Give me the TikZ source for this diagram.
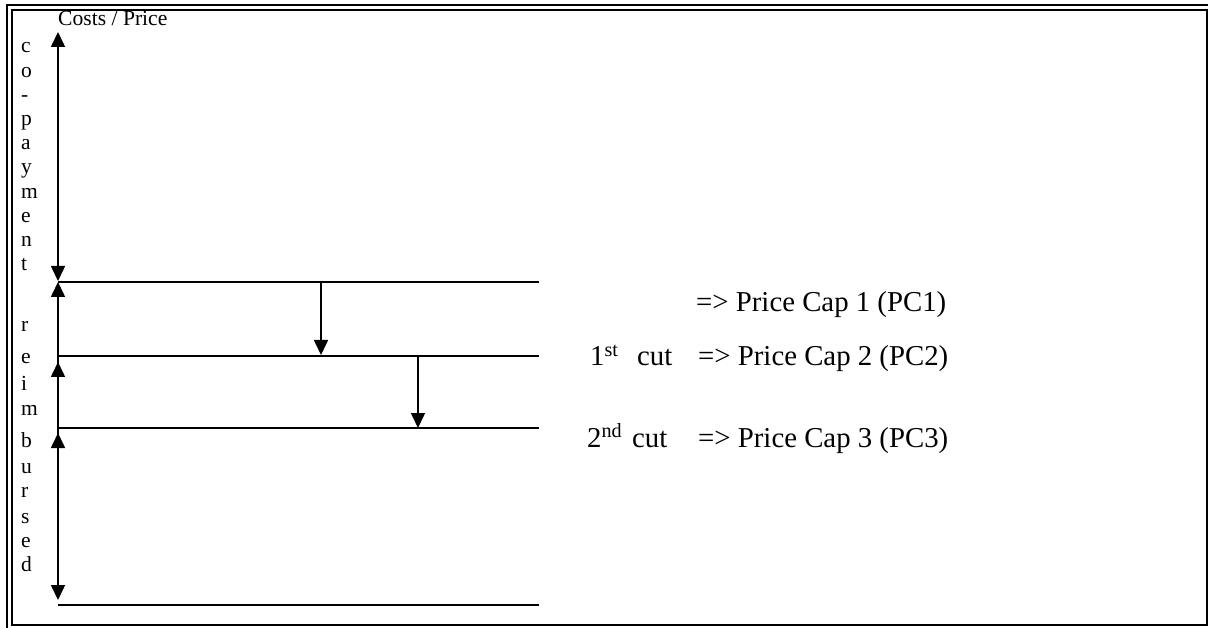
\documentclass[tikz,border=0pt]{standalone}
\usepackage{fontspec}
\setmainfont{Liberation Serif}
\usetikzlibrary{arrows.meta}
\tikzset{
  px/.style={x=1pt,y=-1pt},
  rule/.style={line width=1.6pt},
  tri/.style={-{Triangle[width=14pt,length=15pt]}},
  bitri/.style={{Triangle[width=14pt,length=15pt]}-{Triangle[width=14pt,length=15pt]}},
  arr/.style={line width=1.6pt},
  big/.style={inner sep=0pt,font=\fontsize{28.8}{33}\selectfont},
  vlet/.style={inner sep=0pt,anchor=base west,font=\fontsize{21.5}{25}\selectfont},
  small/.style={inner sep=0pt,font=\fontsize{21.6}{25}\selectfont},
}
\begin{document}
\begin{tikzpicture}[px]
\useasboundingbox (0,0) rectangle (1208,628);
% frame
\draw[line width=1.5pt] (12,10) rectangle (1207,625);
\draw[line width=2.2pt] (7,628) -- (7,5) -- (1208,5);
% coordinates of the levels
\coordinate (a0) at (58,32);
\coordinate (a1) at (58,281);
\coordinate (b1) at (58,282);
\coordinate (b4) at (58,600);
\coordinate (L1s) at (58,282);  \coordinate (L1e) at (539,282);
\coordinate (L2s) at (58,356);  \coordinate (L2e) at (539,356);
\coordinate (L3s) at (58,428);  \coordinate (L3e) at (539,428);
\coordinate (L4s) at (58,605);  \coordinate (L4e) at (539,605);
\coordinate (c2) at (58,362); \coordinate (c2b) at (58,385);
\coordinate (c3) at (58,433); \coordinate (c3b) at (58,455);
\coordinate (d1s) at (321,282); \coordinate (d1e) at (321,355);
\coordinate (d2s) at (418,356); \coordinate (d2e) at (418,428);
% horizontal levels
\draw[rule] (L1s) -- (L1e);
\draw[rule] (L2s) -- (L2e);
\draw[rule] (L3s) -- (L3e);
\draw[rule] (L4s) -- (L4e);
% vertical arrows
\draw[arr,bitri] (a0) -- (a1);
\draw[arr,bitri] (b1) -- (b4);
\draw[arr,tri] (c2b) -- (c2);
\draw[arr,tri] (c3b) -- (c3);
\draw[arr,tri] (d1s) -- (d1e);
\draw[arr,tri] (d2s) -- (d2e);
% axis label
\node[small,anchor=base west] (axis) at (58,26) {Costs / Price};
% vertical words
\foreach \ch [count=\i] in {c,o,-,p,a,y,m,e,n,t}
  \node[vlet] (cp\i) at (21,{53+(\i-1)*24.2}) {\ch};
\foreach \ch/\yy [count=\i] in {r/332,e/363,i/390,m/415,b/447,u/473,r/497,s/523,e/547,d/571}
  \node[vlet] (rb\i) at (21,\yy) {\ch};
% right-hand texts
\node[big,anchor=base west] (pc1) at (696,312) {=> Price Cap 1 (PC1)};
\node[big,anchor=base west] (n1) at (590,366) {1\textsuperscript{st}};
\node[big,anchor=base west] (cut1) at (637,366) {cut};
\node[big,anchor=base west] (pc2) at (698,366) {=> Price Cap 2 (PC2)};
\node[big,anchor=base west] (n2) at (587,447) {2\textsuperscript{nd}};
\node[big,anchor=base west] (cut2) at (632,447) {cut};
\node[big,anchor=base west] (pc3) at (698,447) {=> Price Cap 3 (PC3)};
\end{tikzpicture}
\end{document}
